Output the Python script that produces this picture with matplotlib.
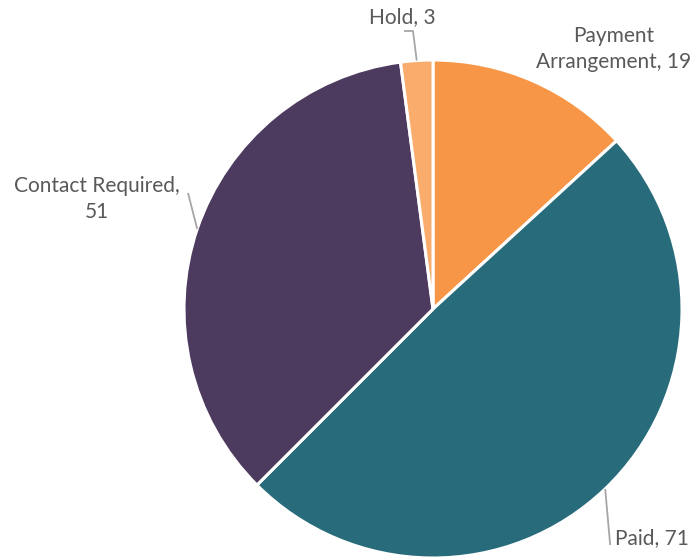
import numpy as np
import matplotlib
matplotlib.use("Agg")
import matplotlib.pyplot as plt

# Account status counts
categories = ["Payment Arrangement", "Paid", "Contact Required", "Hold"]
values = [19, 71, 51, 3]
colors = ["#F79646", "#286B7A", "#4D3A5F", "#F9AC6C"]

W, H = 699, 557
fig = plt.figure(figsize=(W / 100, H / 100), dpi=100)
ax = fig.add_axes([0, 0, 1, 1])

cx, cy, R = 433, H - 309, 249
ax.pie(values, colors=colors, startangle=90, counterclock=False,
       radius=R, center=(cx, cy),
       wedgeprops=dict(edgecolor="white", linewidth=2.2))
ax.set_xlim(0, W)
ax.set_ylim(0, H)
ax.set_aspect("equal")
ax.axis("off")

total = sum(values)
cum = np.cumsum([0] + values)
mid_deg = [(cum[i] + values[i] / 2) / total * 360 for i in range(len(values))]


def edge_point(i, r=R):
    a = np.deg2rad(mid_deg[i])
    return cx + r * np.sin(a), cy + r * np.cos(a)


text_kw = dict(color="#595959", fontsize=15, family=["Lato", "DejaVu Sans"])
line_kw = dict(color="#A6A6A6", linewidth=1.3, solid_capstyle="butt")

# Payment Arrangement
ax.text(614, H - 49, f"{categories[0].replace(' ', chr(10), 1)}, {values[0]}",
        ha="center", va="center", linespacing=1.42, **text_kw)

# Paid
x0, y0 = edge_point(1)
ax.plot([x0, x0 + 5], [y0, H - 545], **line_kw)
ax.text(615, H - 538, f"{categories[1]}, {values[1]}",
        ha="left", va="center", **text_kw)

# Contact Required
x0, y0 = edge_point(2)
ax.plot([x0, 188], [y0, H - 193], **line_kw)
ax.text(97, H - 199, f"{categories[2]},\n{values[2]}",
        ha="center", va="center", linespacing=1.38, **text_kw)

# Hold
x0, y0 = edge_point(3)
ax.plot([x0, 413, 404], [y0, H - 31, H - 31], **line_kw)
ax.text(402, H - 17, f"{categories[3]}, {values[3]}",
        ha="center", va="center", **text_kw)

fig.savefig("out.png", dpi=100)
